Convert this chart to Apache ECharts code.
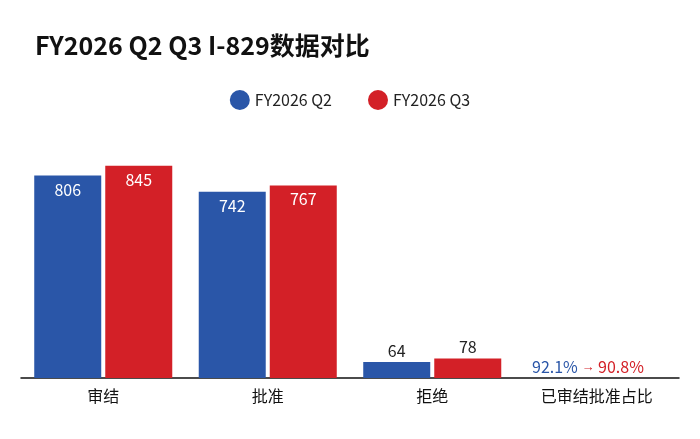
<!DOCTYPE html>
<html><head><meta charset="utf-8">
<script src="https://cdn.jsdelivr.net/npm/echarts@6/dist/echarts.min.js"></script>
<style>html,body{margin:0;padding:0;background:#fff}#c{width:700px;height:439px}</style>
</head><body><div id="c"></div>
<script>
const categories = ['审结','批准','拒绝','已审结批准占比'];
const q2 = [806, 742, 64, null];
const q3 = [845, 767, 78, null];
const ratioQ2 = '92.1%';
const ratioQ3 = '90.8%';
const chart = echarts.init(document.getElementById('c'));
const lbl = (i) => ({show:true, position: i===2?'top':'insideTop', color: i===2?'#222':'#fff', fontSize:16, fontFamily:'Noto Sans CJK SC', distance: i===2?3:6});
function mk(arr){return arr.map((v,i)=> v==null?null:{value:v,label:lbl(i)});}
chart.setOption({
  animation:false,
  title:{text:'FY2026 Q2 Q3 I-829数据对比',left:30,top:28,textStyle:{fontSize:25,fontWeight:'bold',color:'#111',fontFamily:'Noto Sans CJK SC'}},
  legend:{top:85,left:'center',itemGap:36,icon:'circle',itemWidth:20,itemHeight:20,textStyle:{fontSize:16,color:'#222',fontFamily:'Noto Sans CJK SC'}},
  grid:{left:21,right:21,top:152,bottom:61},
  xAxis:{type:'category',data:categories,axisTick:{show:false},axisLine:{lineStyle:{color:'#111',width:1.5}},axisLabel:{fontSize:16,color:'#111',margin:10,fontFamily:'Noto Sans CJK SC'}},
  yAxis:{type:'value',min:0,max:900,show:false,splitLine:{show:false}},
  series:[
    {name:'FY2026 Q2',type:'bar',data:mk(q2),barWidth:67,barGap:'6%',itemStyle:{color:'#2a56a8'}},
    {name:'FY2026 Q3',type:'bar',data:mk(q3),barWidth:67,itemStyle:{color:'#d32027'}}
  ],
  graphic:[{type:'text',left:532,top:359,style:{text:'{a|'+ratioQ2+'}{c| → }{b|'+ratioQ3+'}',rich:{a:{fill:'#2a56a8',fontSize:16,fontFamily:'Noto Sans CJK SC'},b:{fill:'#d32027',fontSize:16,fontFamily:'Noto Sans CJK SC'},c:{fill:'#d32027',fontSize:13}}}}]
});
</script></body></html>
